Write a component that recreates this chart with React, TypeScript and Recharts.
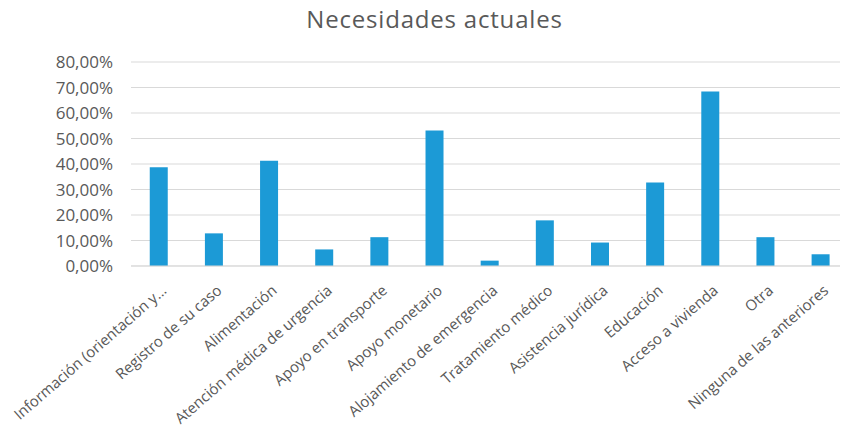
import { BarChart, Bar, XAxis, YAxis, CartesianGrid } from 'recharts';

const categories = [
  'Información (orientación y...',
  'Registro de su caso',
  'Alimentación',
  'Atención médica de urgencia',
  'Apoyo en transporte',
  'Apoyo monetario',
  'Alojamiento de emergencia',
  'Tratamiento médico',
  'Asistencia jurídica',
  'Educación',
  'Acceso a vivienda',
  'Otra',
  'Ninguna de las anteriores',
];

const values = [38.7, 12.8, 41.3, 6.5, 11.3, 53.1, 2.1, 17.9, 9.2, 32.7, 68.4, 11.3, 4.6];

const yTicks = [0, 10, 20, 30, 40, 50, 60, 70, 80];

const data = categories.map((name, i) => ({ name, value: values[i] }));

const FONT = '"Open Sans", sans-serif';
const TEXT = '#595959';

function XTick({ x, y, payload }: any) {
  return (
    <g transform={`translate(${x + 9},${y + 18})`}>
      <text
        textAnchor="end"
        transform="rotate(-41)"
        fill={TEXT}
        fontSize={15}
        fontFamily={FONT}
      >
        {payload.value}
      </text>
    </g>
  );
}

export default function App() {
  return (
    <div style={{ position: 'relative', width: 840, height: 428, background: '#fff' }}>
      <div
        style={{
          position: 'absolute',
          left: 0,
          width: 853,
          top: -6,
          textAlign: 'center',
          fontFamily: FONT,
          fontSize: 24,
          letterSpacing: 0.8,
          color: TEXT,
          zIndex: 1,
        }}
      >
        Necesidades actuales
      </div>
      <BarChart
        width={840}
        height={428}
        data={data}
        margin={{ top: 54, right: 0, left: 0, bottom: 0 }}
        barCategoryGap="34%"
      >
        <CartesianGrid vertical={false} stroke="#d9d9d9" />
        <XAxis
          dataKey="name"
          interval={0}
          height={170}
          tick={<XTick />}
          tickLine={false}
          axisLine={{ stroke: '#d9d9d9' }}
        />
        <YAxis
          width={123}
          domain={[0, 80]}
          ticks={yTicks}
          axisLine={false}
          tickLine={false}
          tickMargin={12}
          tickFormatter={(v: number) => `${v.toFixed(2).replace('.', ',')}%`}
          tick={{ fill: TEXT, fontSize: 17, fontFamily: FONT }}
        />
        <Bar dataKey="value" fill="#1c9ad6" isAnimationActive={false} />
      </BarChart>
    </div>
  );
}
